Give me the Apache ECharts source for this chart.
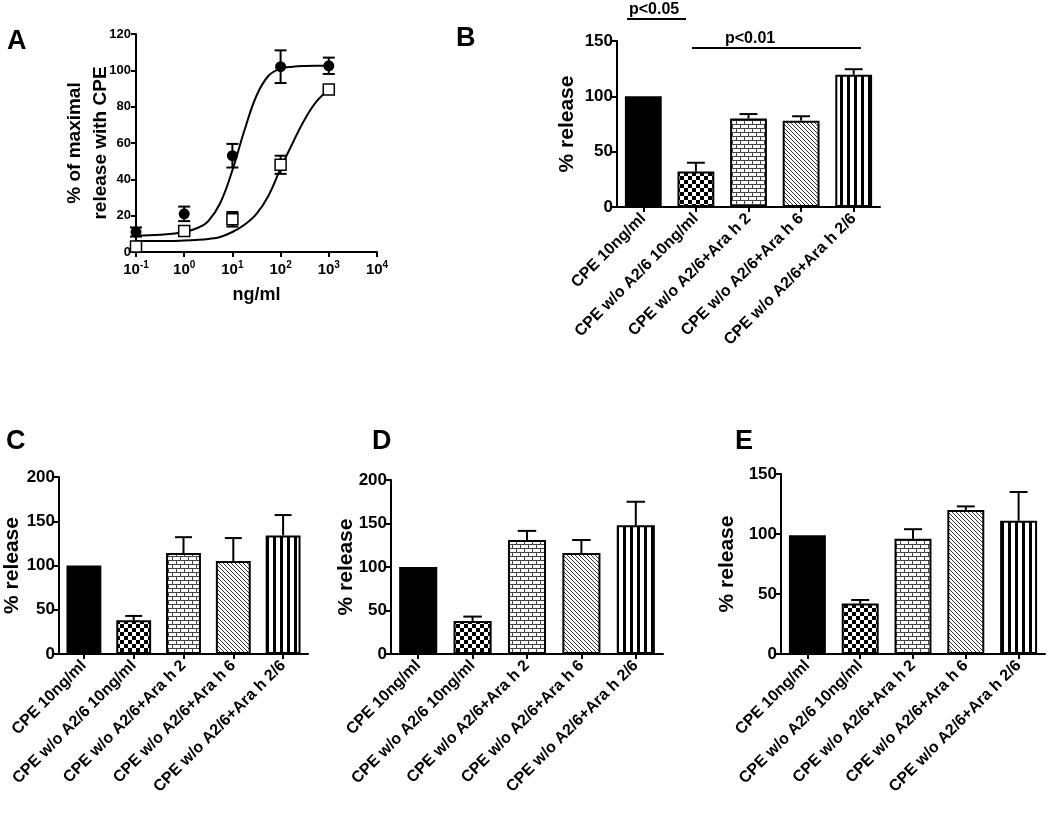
<!DOCTYPE html>
<html>
<head>
<meta charset="utf-8">
<script src="https://cdn.jsdelivr.net/npm/echarts@6/dist/echarts.min.js"></script>
<style>html,body{margin:0;padding:0;background:#fff}#main{width:1050px;height:813px}</style>
</head>
<body>
<div id="main"></div>
<script>
// ---------- DATA ----------
// Panel A (dose response)
const concX = [0.1, 1, 10, 100, 1000];
const circleY = [11, 21, 53, 102, 102.5];
const circleErr = [2.5, 4, 6.5, 9, 4.5];
const squareY = [3, 11.5, 18, 48, 89.5];
const squareErr = [1.5, 1, 4, 5, 1];
// fitted curves
const fitX = [0.1, 0.316, 1, 2, 3.16, 5.6, 10, 17.8, 31.6, 56, 100, 178, 316, 562, 1000];
const fitCircle = [9, 9.5, 11, 13.5, 17, 27, 45, 67, 86, 97, 101, 102, 102.4, 102.5, 102.5];
const fitSquare = [6, 6, 6.3, 6.7, 7.2, 8.3, 11, 15, 21, 31, 46, 60, 73, 83, 89.5];

// Bar panels
const categories = ['CPE 10ng/ml', 'CPE w/o A2/6 10ng/ml', 'CPE w/o A2/6+Ara h 2', 'CPE w/o A2/6+Ara h 6', 'CPE w/o A2/6+Ara h 2/6'];
const valuesB = [100, 32, 80, 78, 119.5];
const errB = [0, 8, 4, 4, 5];
const valuesC = [100, 38, 114, 105, 134];
const errC = [0, 5, 18, 26, 23];
const valuesD = [100, 38, 131, 116, 148];
const errD = [0, 5, 10.5, 15, 27];
const valuesE = [99, 42, 96, 120, 111];
const errE = [0, 3, 8, 3, 24];

// ---------- PATTERNS ----------
function mk(w, h, draw) {
  const c = document.createElement('canvas'); c.width = w; c.height = h;
  const g = c.getContext('2d'); g.fillStyle = '#fff'; g.fillRect(0, 0, w, h); draw(g);
  return { image: c, repeat: 'repeat' };
}
const patSolid = '#000';
const patChecker = mk(8, 8, g => { g.fillStyle = '#000'; g.fillRect(0, 0, 4, 4); g.fillRect(4, 4, 4, 4); });
const patBrick = mk(8, 8, g => { g.fillStyle = '#444'; g.fillRect(0, 0, 8, 1); g.fillRect(0, 4, 8, 1); g.fillRect(0, 1, 1, 3); g.fillRect(4, 5, 1, 3); });
const patDiag = mk(4, 4, g => { g.fillStyle = '#333'; for (let i = 0; i < 4; i++) g.fillRect(i, i, 1, 1); });
const patStripe = mk(7, 4, g => { g.fillStyle = '#000'; g.fillRect(0, 0, 3, 4); });
const patterns = [patSolid, patChecker, patBrick, patDiag, patStripe];

// ---------- HELPERS ----------
const FONT = 'Liberation Sans, Arial, sans-serif';
const axisLineStyle = { lineStyle: { color: '#000', width: 2 } };
const axisTickStyle = { show: true, length: 5, lineStyle: { color: '#000', width: 2 } };

const grids = [
  { left: 136, top: 34, width: 241, height: 218 },   // A
  { left: 617, top: 41, width: 263, height: 166 },   // B
  { left: 59, top: 477, width: 249, height: 177 },   // C
  { left: 391, top: 480, width: 272, height: 174 },  // D
  { left: 781, top: 474, width: 264, height: 180 }   // E
];

const xAxes = [
  {
    gridIndex: 0, type: 'log', logBase: 10, min: 0.1, max: 10000,
    axisLine: axisLineStyle, axisTick: axisTickStyle, splitLine: { show: false }, minorTick: { show: false },
    axisLabel: {
      color: '#000', fontWeight: 'bold', fontFamily: FONT, fontSize: 15, margin: 8,
      formatter: v => '10{s|' + Math.round(Math.log10(v)) + '}',
      rich: { s: { fontSize: 10, fontWeight: 'bold', fontFamily: FONT, color: '#000', verticalAlign: 'bottom', padding: [0, 0, 9, 0] } }
    },
    name: 'ng/ml', nameLocation: 'middle', nameGap: 34, nameMoveOverlap: false,
    nameTextStyle: { color: '#000', fontWeight: 'bold', fontFamily: FONT, fontSize: 18 }
  }
];
const yAxes = [
  {
    gridIndex: 0, type: 'value', min: 0, max: 120, interval: 20,
    axisLine: { show: true, lineStyle: { color: '#000', width: 2 } }, axisTick: axisTickStyle, splitLine: { show: false },
    axisLabel: { color: '#000', fontWeight: 'bold', fontFamily: FONT, fontSize: 13, margin: 5 },
    name: '% of maximal\nrelease with CPE', nameLocation: 'middle', nameGap: 22, nameRotate: 90, nameMoveOverlap: false,
    nameTextStyle: { color: '#000', fontWeight: 'bold', fontFamily: FONT, fontSize: 19, lineHeight: 26 }
  }
];

const barPanels = [
  { vals: valuesB, errs: errB, max: 150, gap: 39 },
  { vals: valuesC, errs: errC, max: 200, gap: 36 },
  { vals: valuesD, errs: errD, max: 200, gap: 34 },
  { vals: valuesE, errs: errE, max: 150, gap: 43 }
];

const series = [
  { type: 'line', xAxisIndex: 0, yAxisIndex: 0, data: fitX.map((x, i) => [x, fitCircle[i]]), smooth: 0.4, showSymbol: false, lineStyle: { color: '#000', width: 2 }, silent: true },
  { type: 'line', xAxisIndex: 0, yAxisIndex: 0, data: fitX.map((x, i) => [x, fitSquare[i]]), smooth: 0.4, showSymbol: false, lineStyle: { color: '#000', width: 2 }, silent: true },
  {
    type: 'custom', xAxisIndex: 0, yAxisIndex: 0,
    data: concX.map((x, i) => [x, circleY[i] - circleErr[i], circleY[i] + circleErr[i]]).concat(
      concX.map((x, i) => [x, squareY[i] - squareErr[i], squareY[i] + squareErr[i]])),
    renderItem: (p, api) => {
      const lo = api.coord([api.value(0), api.value(1)]);
      const hi = api.coord([api.value(0), api.value(2)]);
      const hw = 6, st = { stroke: '#000', lineWidth: 2 };
      return { type: 'group', children: [
        { type: 'line', shape: { x1: lo[0], y1: lo[1], x2: hi[0], y2: hi[1] }, style: st },
        { type: 'line', shape: { x1: lo[0] - hw, y1: lo[1], x2: lo[0] + hw, y2: lo[1] }, style: st },
        { type: 'line', shape: { x1: hi[0] - hw, y1: hi[1], x2: hi[0] + hw, y2: hi[1] }, style: st }
      ] };
    }, z: 3
  },
  { type: 'scatter', xAxisIndex: 0, yAxisIndex: 0, data: concX.map((x, i) => [x, circleY[i]]), symbol: 'circle', symbolSize: 11, itemStyle: { color: '#000', opacity: 1 }, z: 5 },
  { type: 'scatter', xAxisIndex: 0, yAxisIndex: 0, data: concX.map((x, i) => [x, squareY[i]]), symbol: 'rect', symbolSize: 11, itemStyle: { color: '#fff', borderColor: '#000', borderWidth: 1.5, opacity: 1 }, z: 5 }
];

barPanels.forEach((bp, k) => {
  const gi = k + 1;
  xAxes.push({
    gridIndex: gi, type: 'category', data: categories,
    axisLine: axisLineStyle, axisTick: { show: true, alignWithLabel: true, length: 5, lineStyle: { color: '#000', width: 2 } },
    axisLabel: { interval: 0, rotate: 45, color: '#000', fontWeight: 'bold', fontFamily: FONT, fontSize: 16, margin: 9 }
  });
  yAxes.push({
    gridIndex: gi, type: 'value', min: 0, max: bp.max, interval: 50,
    axisLine: { show: true, lineStyle: { color: '#000', width: 2 } }, axisTick: axisTickStyle, splitLine: { show: false },
    axisLabel: { color: '#000', fontWeight: 'bold', fontFamily: FONT, fontSize: 17, margin: 4 },
    name: '% release', nameLocation: 'middle', nameGap: bp.gap, nameRotate: 90, nameMoveOverlap: false,
    nameTextStyle: { color: '#000', fontWeight: 'bold', fontFamily: FONT, fontSize: 21 }
  });
  series.push({
    type: 'bar', xAxisIndex: gi, yAxisIndex: gi, barWidth: '70%',
    data: bp.vals.map((v, i) => ({ value: v, itemStyle: { color: patterns[i], borderColor: '#000', borderWidth: 2 } })),
    z: 2
  });
  series.push({
    type: 'custom', xAxisIndex: gi, yAxisIndex: gi, z: 3,
    data: bp.vals.map((v, i) => [i, v, v + bp.errs[i]]),
    renderItem: (p, api) => {
      if (api.value(2) <= api.value(1)) return null;
      const lo = api.coord([api.value(0), api.value(1)]);
      const hi = api.coord([api.value(0), api.value(2)]);
      const hw = api.size([1, 0])[0] * 0.17, st = { stroke: '#000', lineWidth: 2 };
      return { type: 'group', children: [
        { type: 'line', shape: { x1: lo[0], y1: lo[1], x2: hi[0], y2: hi[1] }, style: st },
        { type: 'line', shape: { x1: hi[0] - hw, y1: hi[1], x2: hi[0] + hw, y2: hi[1] }, style: st }
      ] };
    }
  });
});

const letterStyle = { fill: '#000', font: 'bold 27px ' + FONT, textAlign: 'left', textVerticalAlign: 'top' };
const graphic = [
  { type: 'text', left: 7, top: 28, style: Object.assign({ text: 'A' }, letterStyle) },
  { type: 'text', left: 456, top: 25, style: Object.assign({ text: 'B' }, letterStyle) },
  { type: 'text', left: 6, top: 428, style: Object.assign({ text: 'C' }, letterStyle) },
  { type: 'text', left: 372, top: 428, style: Object.assign({ text: 'D' }, letterStyle) },
  { type: 'text', left: 735, top: 428, style: Object.assign({ text: 'E' }, letterStyle) },
  { type: 'text', left: 629, top: 2, style: { text: 'p<0.05', fill: '#000', font: 'bold 16px ' + FONT } },
  { type: 'line', shape: { x1: 627, y1: 19, x2: 686, y2: 19 }, style: { stroke: '#000', lineWidth: 2 } },
  { type: 'text', left: 725, top: 31, style: { text: 'p<0.01', fill: '#000', font: 'bold 16px ' + FONT } },
  { type: 'line', shape: { x1: 692, y1: 48, x2: 861, y2: 48 }, style: { stroke: '#000', lineWidth: 2 } }
];

const chart = echarts.init(document.getElementById('main'), null, { renderer: 'canvas' });
chart.setOption({
  backgroundColor: '#fff',
  animation: false,
  grid: grids,
  xAxis: xAxes,
  yAxis: yAxes,
  series: series,
  graphic: graphic
});
</script>
</body>
</html>
